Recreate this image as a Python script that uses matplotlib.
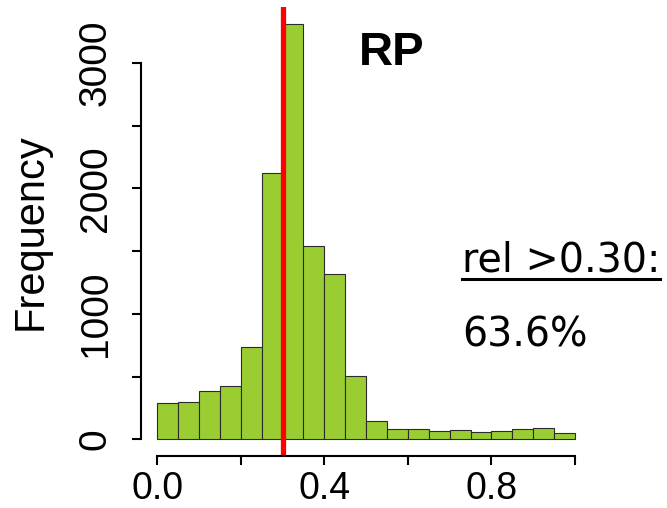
import matplotlib.pyplot as plt
from matplotlib.lines import Line2D
import numpy as np

# histogram of rel values, bin width 0.05
bin_edges = np.round(np.arange(0, 1.0001, 0.05), 2)
counts = [287, 300, 387, 425, 738, 2119, 3309, 1540, 1317, 502,
          146, 85, 82, 66, 72, 58, 69, 80, 88, 53]
threshold = 0.30
title = "RP"
note_head = "rel >0.30:"
note_value = "63.6%"

W, H = 667, 508
plt.rcParams["font.family"] = ["Liberation Sans", "DejaVu Sans"]

fig = plt.figure(figsize=(W / 100, H / 100), dpi=100)
# plot region in pixels: x 140.6..591.7, y 7.4..456
ax = fig.add_axes([140.6 / W, 1 - 456 / H, (591.7 - 140.6) / W, (456 - 7.4) / H])

ax.bar(bin_edges[:-1], counts, width=0.05, align="edge",
       color="#9ACD32", edgecolor="#2b2b2b", linewidth=0.8)
ax.axvline(threshold, color="#ff0000", linewidth=3.8)

ymax = max(counts)
ax.set_xlim(-0.04, 1.04)
ax.set_ylim(-0.04 * ymax, 1.04 * ymax)

for side in ("top", "right"):
    ax.spines[side].set_visible(False)
ax.spines["left"].set_bounds(0, 3000)
ax.spines["bottom"].set_bounds(0, 1)
for side in ("left", "bottom"):
    ax.spines[side].set_linewidth(1.5)

ax.set_yticks(np.arange(0, 3001, 500))
ax.set_yticklabels(["0", "", "1000", "", "2000", "", "3000"],
                   rotation=90, va="center", family="Liberation Sans")
ax.set_xticks(np.arange(0, 1.0001, 0.2))
ax.set_xticklabels(["0.0", "", "0.4", "", "0.8", ""], family="Liberation Sans")
ax.tick_params(axis="y", length=6.5, width=1.5, labelsize=28, pad=13)
ax.tick_params(axis="x", length=6.5, width=1.5, labelsize=27, pad=4)

ax.set_ylabel("Frequency", fontsize=30, family="Liberation Sans")
ax.yaxis.set_label_coords(-0.2, 0.5)

fig.text(392 / W, 1 - 65 / H, title, fontsize=34, fontweight="bold",
         family="Liberation Sans", ha="center", va="baseline")
fig.text(462 / W, 1 - 272 / H, note_head, fontsize=28.5, family="DejaVu Sans",
         ha="left", va="baseline")
fig.add_artist(Line2D([462 / W, 660 / W], [1 - 279 / H, 1 - 279 / H],
                      color="black", linewidth=2.2,
                      transform=fig.transFigure))
fig.text(462 / W, 1 - 346.7 / H, note_value, fontsize=28.5, family="DejaVu Sans",
         ha="left", va="baseline")

fig.savefig("out.png", dpi=100)
plt.close(fig)
